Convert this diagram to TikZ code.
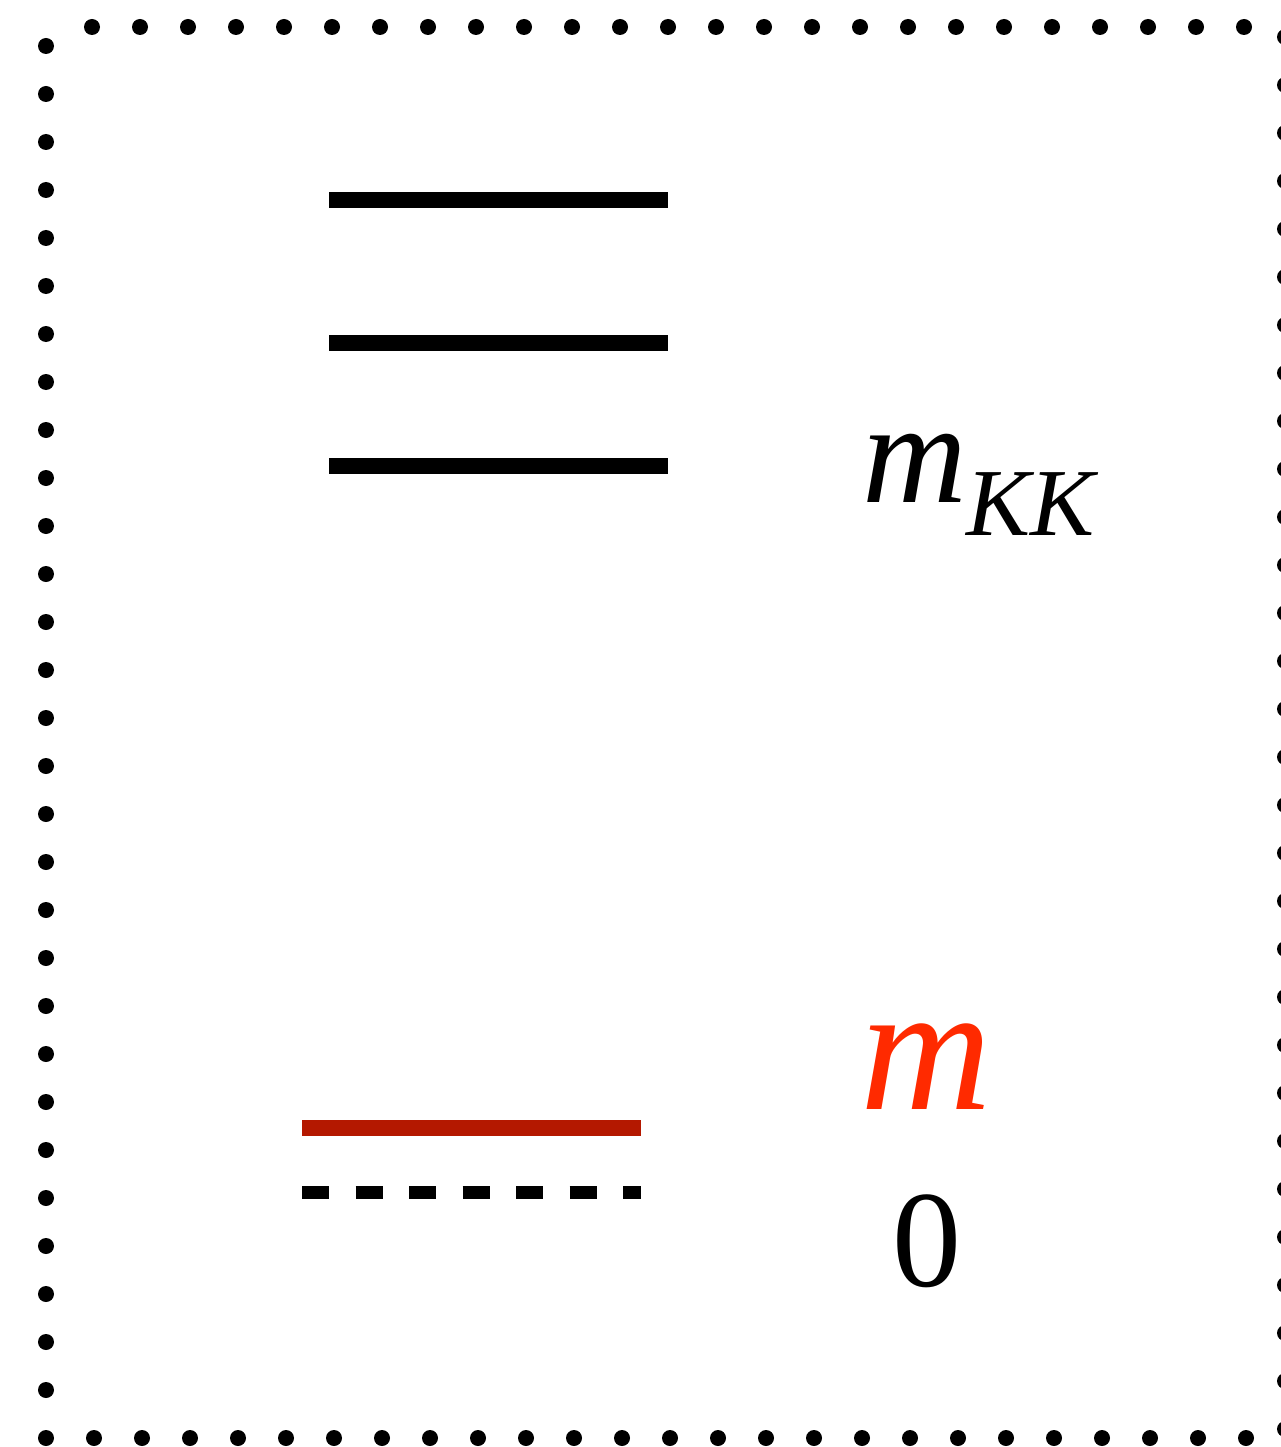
\documentclass[tikz,border=0pt]{standalone}
\usepackage{fontspec}
\setmainfont{Liberation Serif}
\definecolor{lvlred}{HTML}{B41800}
\definecolor{lblred}{HTML}{FF2A00}
\begin{document}
\begin{tikzpicture}[x=1pt,y=-1pt,
  dot/.style={fill=black},
  level/.style={line width=16pt},
  redlevel/.style={line width=16pt,draw=lvlred},
  zerolevel/.style={line width=13pt,dash pattern=on 27pt off 26.5pt},
  lbl/.style={inner sep=0pt,anchor=base west}]
\useasboundingbox (0,0) rectangle (1281,1447);
% dotted frame
\foreach \k in {0,...,24} \fill[dot] (92+48*\k,27) circle (8);
\foreach \k in {0,...,28} \fill[dot] (46,46+48*\k) circle (8);
\foreach \k in {0,...,25} \fill[dot] (46+48*\k,1438) circle (8);
\foreach \k in {0,...,29} \fill[dot] (1285,37+48*\k) circle (8);
% levels
\coordinate (a1) at (329,200); \coordinate (b1) at (668,200);
\coordinate (a2) at (329,343); \coordinate (b2) at (668,343);
\coordinate (a3) at (329,466); \coordinate (b3) at (668,466);
\coordinate (r1) at (302,1128); \coordinate (r2) at (641,1128);
\coordinate (z1) at (302,1192); \coordinate (z2) at (641,1192);
\draw[level] (a1) -- (b1);
\draw[level] (a2) -- (b2);
\draw[level] (a3) -- (b3);
\draw[redlevel] (r1) -- (r2);
\draw[zerolevel] (z1) -- (z2);
% labels
\node[lbl] (mkk) at (862,502) {{\fontsize{145}{145}\selectfont\itshape m}{\fontsize{96}{96}\selectfont\itshape\raisebox{-33pt}{KK}}};
\node[lbl,text=lblred] (mred) at (860,1109) {\fontsize{182}{182}\selectfont\itshape m};
\node[inner sep=0pt,anchor=base] (zero) at (927,1286) {\fontsize{138}{138}\selectfont 0};
\end{tikzpicture}
\end{document}
